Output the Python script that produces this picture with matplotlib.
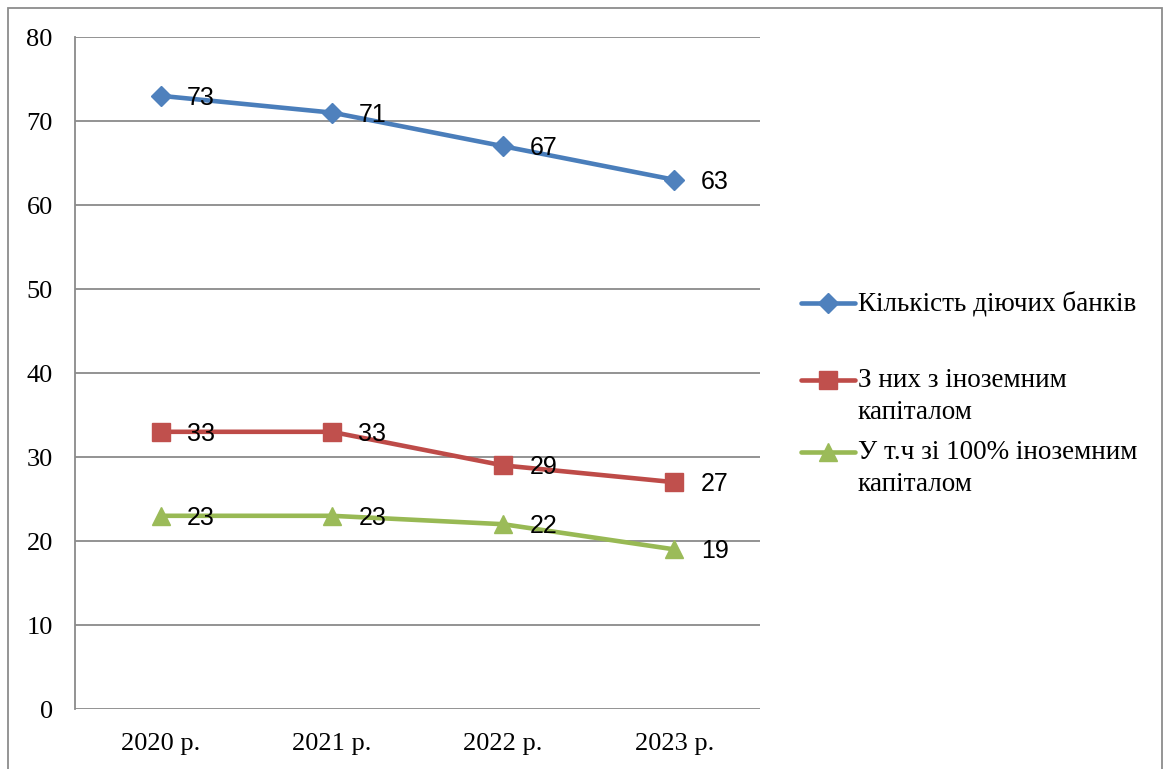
import matplotlib
matplotlib.use("Agg")
import matplotlib.pyplot as plt
from matplotlib.lines import Line2D
from matplotlib.patches import Rectangle

# Data
years = ["2020 р.", "2021 р.", "2022 р.", "2023 р."]
banks_total = [73, 71, 67, 63]
banks_foreign = [33, 33, 29, 27]
banks_foreign_100 = [23, 23, 22, 19]
series_labels = [
    "Кількість діючих банків",
    "З них з іноземним\nкапіталом",
    "У т.ч зі 100% іноземним\nкапіталом",
]
y_ticks = list(range(0, 81, 10))

serif = "Liberation Serif"
sans = "Liberation Sans"
plt.rcParams["font.family"] = [serif, "DejaVu Serif"]

W, H = 1169, 769
fig = plt.figure(figsize=(W / 100, H / 100), dpi=100)
fig.patch.set_facecolor("white")


def fx(px):
    return px / W


def fy(py):
    return 1 - py / H


# outer chart border
fig.add_artist(Rectangle((fx(8), fy(790)), fx(1162) - fx(8), fy(8) - fy(790),
                         transform=fig.transFigure, fill=False,
                         edgecolor="#8c8c8c", linewidth=1.3))

ax = fig.add_axes([fx(75), fy(709), fx(760) - fx(75), fy(37) - fy(709)])

grid_color = "#8a8a8a"

styles = [
    dict(color="#4A7EBB", marker="D", mfc="#4F81BD", ms=10.5),
    dict(color="#BE4B48", marker="s", mfc="#C0504D", ms=12.5),
    dict(color="#98B954", marker="^", mfc="#9BBB59", ms=13),
]
series = [banks_total, banks_foreign, banks_foreign_100]

x = list(range(len(years)))
for vals, st in zip(series, styles):
    ax.plot(x, vals, color=st["color"], linewidth=3.3, marker=st["marker"],
            markersize=st["ms"], markerfacecolor=st["mfc"],
            markeredgecolor=st["mfc"], zorder=3)
    for xi, v in zip(x, vals):
        ax.annotate(str(v), (xi, v), xytext=(19, -1.5), textcoords="offset points",
                    ha="left", va="center", fontsize=18, family=sans,
                    color="black", zorder=4)

ax.set_xlim(-0.5, 3.5)
ax.set_ylim(0, 80)
ax.set_yticks(y_ticks)
ax.set_yticklabels([str(v) for v in y_ticks], fontfamily=serif, fontsize=19)
ax.set_xticks(x)
ax.set_xticklabels(years, fontfamily=serif, fontsize=19)
ax.yaxis.grid(True, color=grid_color, linewidth=1.3)
ax.set_axisbelow(True)
for side in ["top", "right", "bottom"]:
    ax.spines[side].set_visible(False)
ax.spines["left"].set_color(grid_color)
ax.spines["left"].set_linewidth(1.3)
ax.tick_params(axis="both", length=0)
ax.tick_params(axis="y", pad=16)
ax.tick_params(axis="x", pad=17)

# legend drawn beside the plot area
legend_rows = [303, 380, 452]
for row, label, st in zip(legend_rows, series_labels, styles):
    yy = fy(row)
    fig.add_artist(Line2D([fx(801), fx(855)], [yy, yy], transform=fig.transFigure,
                          color=st["color"], linewidth=3.3, solid_capstyle="round"))
    fig.add_artist(Line2D([fx(828)], [yy], transform=fig.transFigure,
                          marker=st["marker"], markersize=st["ms"],
                          markerfacecolor=st["mfc"], markeredgecolor=st["mfc"],
                          linestyle="none"))
    fig.text(fx(858), fy(row - 12), label, ha="left", va="top", fontsize=19.5,
             family=serif, linespacing=1.38)

fig.savefig("out.png", dpi=100)
